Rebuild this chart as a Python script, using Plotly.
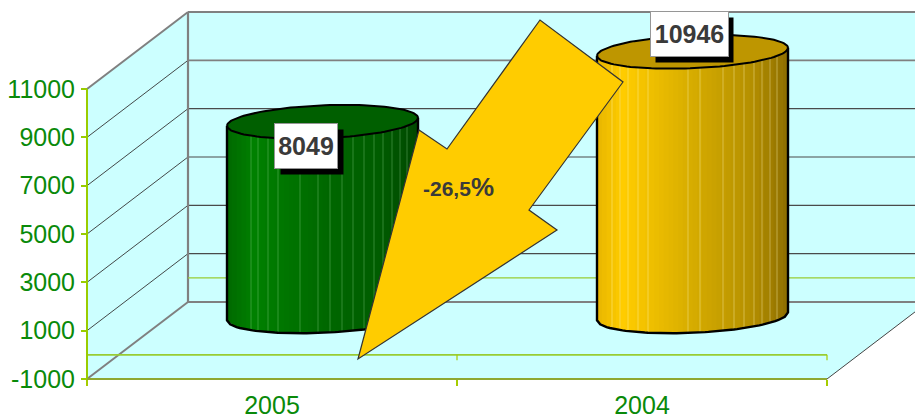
import math
import plotly.graph_objects as go

categories = ["2005", "2004"]
values = [8049, 10946]
y_ticks = [-1000, 1000, 3000, 5000, 7000, 9000, 11000]
change_label = "-26,5"

W, H = 915, 417
LEFT, RIGHT, TOP, BOTTOM = 87, 827, 89, 379
PX_X = (RIGHT - LEFT) / len(categories)
PX_Y = (BOTTOM - TOP) / (y_ticks[-1] - y_ticks[0])
DX = 101 / PX_X        # depth vector, data units
DY = 77 / PX_Y
XMIN, XMAX = -0.5, len(categories) - 0.5
YMIN, YMAX = y_ticks[0], y_ticks[-1]
X_RANGE = [XMIN - LEFT / PX_X, XMAX + (W - RIGHT) / PX_X]
Y_RANGE = [YMIN - (H - BOTTOM) / PX_Y, YMAX + TOP / PX_Y]

fig = go.Figure()


def add(xs, ys, color=None, fill=None, width=1.0, close=False):
    if close:
        xs, ys = list(xs) + [xs[0]], list(ys) + [ys[0]]
    fig.add_trace(go.Scatter(
        x=xs, y=ys, mode="lines", cliponaxis=False, hoverinfo="skip", showlegend=False,
        line=dict(color=color or "rgba(0,0,0,0)", width=width if color else 0),
        fill="toself" if fill else None, fillcolor=fill,
    ))


# walls and floor
WALL = "#CCFFFF"
add([XMIN + DX, XMAX + DX, XMAX + DX, XMIN + DX], [YMIN + DY, YMIN + DY, YMAX + DY, YMAX + DY], fill=WALL, close=True)
add([XMIN, XMIN + DX, XMIN + DX, XMIN], [YMIN, YMIN + DY, YMAX + DY, YMAX], fill=WALL, close=True)
add([XMIN, XMAX, XMAX + DX, XMIN + DX], [YMIN, YMIN, YMIN + DY, YMIN + DY], fill=WALL, close=True)

# gridlines
for v in y_ticks:
    edge = v in (YMIN, YMAX)
    upper = v >= 9000
    col = "#808080" if (edge or upper) else "#4a4a4a"
    w = 2 if edge else (1.6 if upper else 1.1)
    add([XMIN + DX, XMAX + DX], [v + DY, v + DY], col, width=w)
    add([XMIN, XMIN + DX], [v, v + DY], "#808080" if edge else "#333333", width=2 if edge else 0.9)
add([XMIN + DX, XMIN + DX], [YMIN + DY, YMAX + DY], "#808080", width=2.2)
add([XMAX, XMAX + DX], [YMIN, YMIN + DY], "#444444", width=1)

# zero plane lines
LIME = "#99CC33"
add([XMIN + DX, XMAX + DX], [DY, DY], LIME, width=1.4)
add([XMIN, XMAX], [0, 0], LIME, width=1.6)
TICK = 5.5 / PX_Y
for x in (0.5, 1.5):
    add([x, x], [0, -TICK], "#A5CC00", width=1.2)

# front axis lines
add([XMIN, XMIN], [YMIN, YMAX], "#99CC00", width=2)
add([XMIN, XMAX], [YMIN, YMIN], "#8FA830", width=2)

# cylinders
DIAM = 191 / PX_X
DEPTH_FRAC = 0.22
R = DIAM / 2
B = DEPTH_FRAC * DX
A = math.sqrt(R * R - B * B)
PHI = math.atan2(B, A)


def ellipse_pt(cx, level, t):
    px = cx + DX / 2 + A * math.cos(t) + B * math.sin(t)
    py = level + DY / 2 + DEPTH_FRAC * DY * math.sin(t)
    return px, py


def front_t(f):
    return PHI + 2 * math.pi - math.acos(max(-1, min(1, 2 * f - 1)))


def mix(stops, f):
    for (a, ca), (b, cb) in zip(stops, stops[1:]):
        if f <= b:
            u = (f - a) / (b - a)
            return "rgb(%d,%d,%d)" % tuple(round(p + (q - p) * u) for p, q in zip(ca, cb))
    return "rgb(%d,%d,%d)" % stops[-1][1]


STYLES = [
    dict(stops=[(0, (0, 105, 0)), (0.14, (0, 128, 0)), (0.5, (0, 105, 0)), (0.8, (0, 92, 0)), (1, (0, 72, 0))],
         top="#005F00",
         seams=[24, 31, 41, 51, 73, 91, 103, 115, 126, 137, 147, 156, 165, 173, 180],
         seam="rgba(170,235,170,0.3)"),
    dict(stops=[(0, (232, 182, 0)), (0.14, (255, 204, 0)), (0.5, (214, 172, 0)), (0.8, (182, 145, 0)), (1, (142, 110, 0))],
         top="#BE9600",
         seams=[15, 23, 31, 41, 51, 91, 103, 126, 137, 147, 157, 165, 173, 180],
         seam="rgba(255,250,190,0.38)"),
]
STRIPS = 40
for i, v in enumerate(values):
    st = STYLES[i]
    for s in range(STRIPS):
        f0 = s / STRIPS
        ts = [front_t(f0 + (1 - f0) * k / 24) for k in range(25)]
        top = [ellipse_pt(i, v, t) for t in ts]
        bot = [ellipse_pt(i, 0, t) for t in ts]
        poly = top + bot[::-1]
        add([p[0] for p in poly], [p[1] for p in poly], fill=mix(st["stops"], f0 + 0.5 / STRIPS), close=True)
    for off in st["seams"]:
        t = front_t(off / 191)
        a, b = ellipse_pt(i, v, t), ellipse_pt(i, 0, t)
        add([a[0], b[0]], [a[1], b[1]], st["seam"], width=1)
    ts = [2 * math.pi * k / 120 for k in range(121)]
    ring = [ellipse_pt(i, v, t) for t in ts]
    add([p[0] for p in ring], [p[1] for p in ring], "#000000", fill=st["top"], width=2)
    ts = [front_t(k / 60) for k in range(61)]
    arc = [ellipse_pt(i, 0, t) for t in ts]
    tl, tr = ellipse_pt(i, v, ts[0]), ellipse_pt(i, v, ts[-1])
    add([tl[0]] + [p[0] for p in arc] + [tr[0]], [tl[1]] + [p[1] for p in arc] + [tr[1]], "#000000", width=2.4)

# block arrow annotation (paper pixels)
ARROW = [(358, 359), (419, 130), (447, 149), (540, 20), (623, 82), (529, 210), (557, 230)]
path = "M " + " L ".join(f"{x / W:.5f},{1 - y / H:.5f}" for x, y in ARROW) + " Z"
fig.add_shape(type="path", xref="paper", yref="paper", path=path, fillcolor="#FFCC00",
              line=dict(color="#333333", width=1.2), layer="above")

# data labels
LABEL_SHIFT = [(34, 14), (47, 56)]
BOX = [(62, 44), (77, 44)]
for i, v in enumerate(values):
    sx, sy = LABEL_SHIFT[i]
    w, h = BOX[i]
    fig.add_annotation(x=i, y=v, xref="x", yref="y", text=" ", showarrow=False, width=w, height=h, borderpad=0,
                       bgcolor="#000000", xshift=sx + 5.5, yshift=sy - 5.5)
    fig.add_annotation(x=i, y=v, xref="x", yref="y", text=f"<b>{v}</b>", showarrow=False, width=w, height=h,
                       borderpad=0, bgcolor="#FFFFFF", bordercolor="#969696", borderwidth=1, xshift=sx, yshift=sy,
                       font=dict(family="Liberation Sans", size=25, color="#3A3A3A"))

fig.add_annotation(xref="paper", yref="paper", x=458.5 / W, y=1 - 186.5 / H, showarrow=False,
                   text=f'<b><span style="font-size:21px">{change_label}</span><span style="font-size:26px">%</span></b>',
                   font=dict(family="Liberation Sans", size=21, color="#3A3A3A"))

fig.update_layout(
    width=W, height=H, margin=dict(l=0, r=0, t=0, b=0),
    paper_bgcolor="#FFFFFF", plot_bgcolor="rgba(0,0,0,0)", showlegend=False, hovermode=False,
    xaxis=dict(automargin=False, domain=[0, 1], range=X_RANGE, anchor="free", position=(H - BOTTOM) / H,
               tickmode="array", tickvals=list(range(len(categories))),
               ticktext=categories, ticks="", showgrid=False, zeroline=False, showline=False, ticklabelstandoff=9,
               tickfont=dict(family="Liberation Sans", size=25, color="#0A8A0A"),
               minor=dict(tickmode="array", tickvals=[-0.5, 0.5, 1.5], ticks="outside", ticklen=6, tickwidth=1.5,
                          tickcolor="#A5CC00", showgrid=False)),
    yaxis=dict(automargin=False, domain=[0, 1], range=Y_RANGE, anchor="free", position=LEFT / W,
               tickmode="array", tickvals=y_ticks, ticktext=[str(t) for t in y_ticks],
               ticks="outside", ticklen=6, tickwidth=2, tickcolor="#99CC00", showgrid=False, zeroline=False,
               showline=False, ticklabelstandoff=1,
               tickfont=dict(family="Liberation Sans", size=25, color="#0A8A0A")),
)
fig.write_html("out.html", config={"displayModeBar": False},
               post_script="document.body.style.margin='0';document.body.style.overflow='hidden';")
